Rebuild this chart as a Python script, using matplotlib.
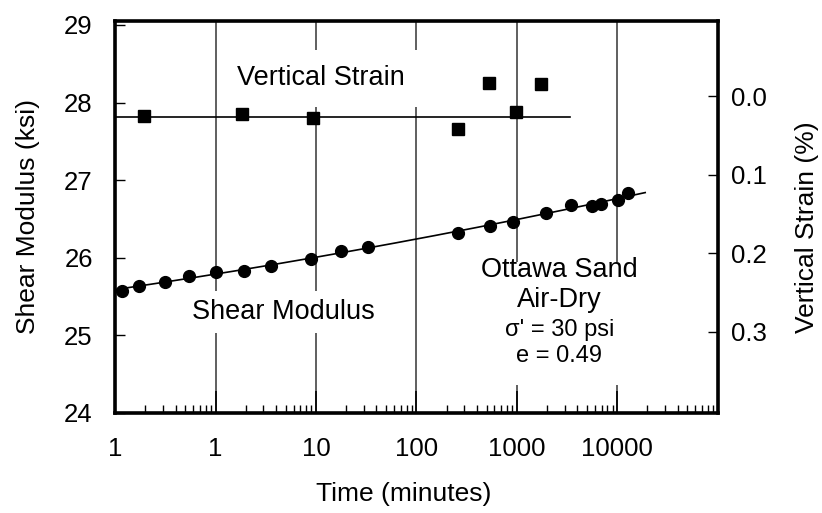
import matplotlib
matplotlib.use("Agg")
import matplotlib.pyplot as plt
import numpy as np
from matplotlib.patches import Rectangle
from matplotlib.ticker import LogLocator, NullFormatter, FixedLocator

plt.rcParams['font.family'] = ['Liberation Sans', 'DejaVu Sans']

# shear modulus (ksi) vs time (minutes)
t_shear = [0.118, 0.172, 0.313, 0.542, 1.0, 1.92, 3.59, 8.96, 17.8, 32.8,
           261, 543, 920, 1941, 3500, 5570, 6840, 10190, 12900]
G_shear = [25.57, 25.64, 25.69, 25.76, 25.82, 25.83, 25.89, 25.99, 26.09, 26.14,
           26.32, 26.41, 26.46, 26.58, 26.68, 26.67, 26.69, 26.74, 26.84]

# vertical strain (%) vs time (minutes)
t_strain = [0.195, 1.85, 9.3, 261, 532, 986, 1733]
strain = [0.0255, 0.0233, 0.0284, 0.042, -0.0162, 0.0208, -0.0153]
strain_line = 0.027
strain_line_end = 3400

grid_times = [1, 10, 100, 1000, 10000]
xtick_vals = [0.1, 1, 10, 100, 1000, 10000]
xtick_labels = ['1', '1', '10', '100', '1000', '10000']

fig = plt.figure(figsize=(8.22, 5.13), dpi=100)
ax = fig.add_axes([0.14, 0.195, 0.733, 0.764])

for g in grid_times:
    ax.axvline(g, color='#444444', lw=1.2, zorder=1)

# fitted trend through shear modulus data
lt = np.log10(t_shear)
coef = np.polyfit(lt, G_shear, 2)
xf = np.linspace(-1, np.log10(19000), 200)
ax.plot(10 ** xf, np.polyval(coef, xf), color='black', lw=1.2, zorder=4)
ax.plot(t_shear, G_shear, 'o', color='black', ms=8.5, zorder=5)

ax.set_xscale('log')
ax.set_xlim(0.1, 100000)
ax.set_ylim(24, 29.05)
ax.xaxis.set_major_locator(FixedLocator(xtick_vals))
ax.set_xticklabels(xtick_labels)
ax.xaxis.set_minor_locator(LogLocator(base=10, subs=np.arange(2, 10)))
ax.xaxis.set_minor_formatter(NullFormatter())
ax.set_yticks([24, 25, 26, 27, 28, 29])
ax.tick_params(axis='x', which='major', direction='in', length=16, width=1.2,
               labelsize=18.5, pad=17)
ax.tick_params(axis='x', which='minor', direction='in', length=6, width=1.0)
ax.tick_params(axis='y', direction='in', length=7, width=1.0, labelsize=18.5, pad=16)
for s in ax.spines.values():
    s.set_linewidth(2.6)

ax.set_xlabel('Time (minutes)', fontsize=19)
ax.xaxis.set_label_coords(0.479, -0.176)
ax.set_ylabel('Shear Modulus (ksi)', fontsize=19)
ax.yaxis.set_label_coords(-0.124, 0.5)

ax.text(11.2, 28.31, 'Vertical Strain', fontsize=19.5, ha='center', va='center',
        bbox=dict(facecolor='white', edgecolor='none', pad=11), zorder=3)
ax.text(4.7, 25.30, 'Shear Modulus', fontsize=19.5, ha='center', va='center',
        bbox=dict(facecolor='white', edgecolor='none', pad=6), zorder=3)

# white backing behind the sample description
ax.add_patch(Rectangle((363, 24.36), 19900 - 363, 25.95 - 24.36,
                       facecolor='white', edgecolor='none', zorder=2))
ax.text(2650, 25.84, 'Ottawa Sand', fontsize=19.5, ha='center', va='center', zorder=3)
ax.text(2650, 25.46, 'Air-Dry', fontsize=19.5, ha='center', va='center', zorder=3)
ax.text(2650, 25.07, "σ' = 30 psi", fontsize=17, ha='center', va='center', zorder=3)
ax.text(2650, 24.74, 'e = 0.49', fontsize=17, ha='center', va='center', zorder=3)

ax2 = ax.twinx()
ax2.set_ylim(0.4034, -0.0955)
ax2.plot([0.1, strain_line_end], [strain_line, strain_line], color='black', lw=1.2)
ax2.plot(t_strain, strain, 's', color='black', ms=8.5)
ax2.set_yticks([0.0, 0.1, 0.2, 0.3])
ax2.set_yticklabels(['0.0', '0.1', '0.2', '0.3'])
ax2.tick_params(axis='y', direction='in', length=7, width=1.0, labelsize=18.5, pad=10)
ax2.set_ylabel('Vertical Strain (%)', fontsize=19)
ax2.yaxis.set_label_coords(1.129, 0.474)
ax2.set_xlim(0.1, 100000)

fig.savefig('out.png', dpi=100)
